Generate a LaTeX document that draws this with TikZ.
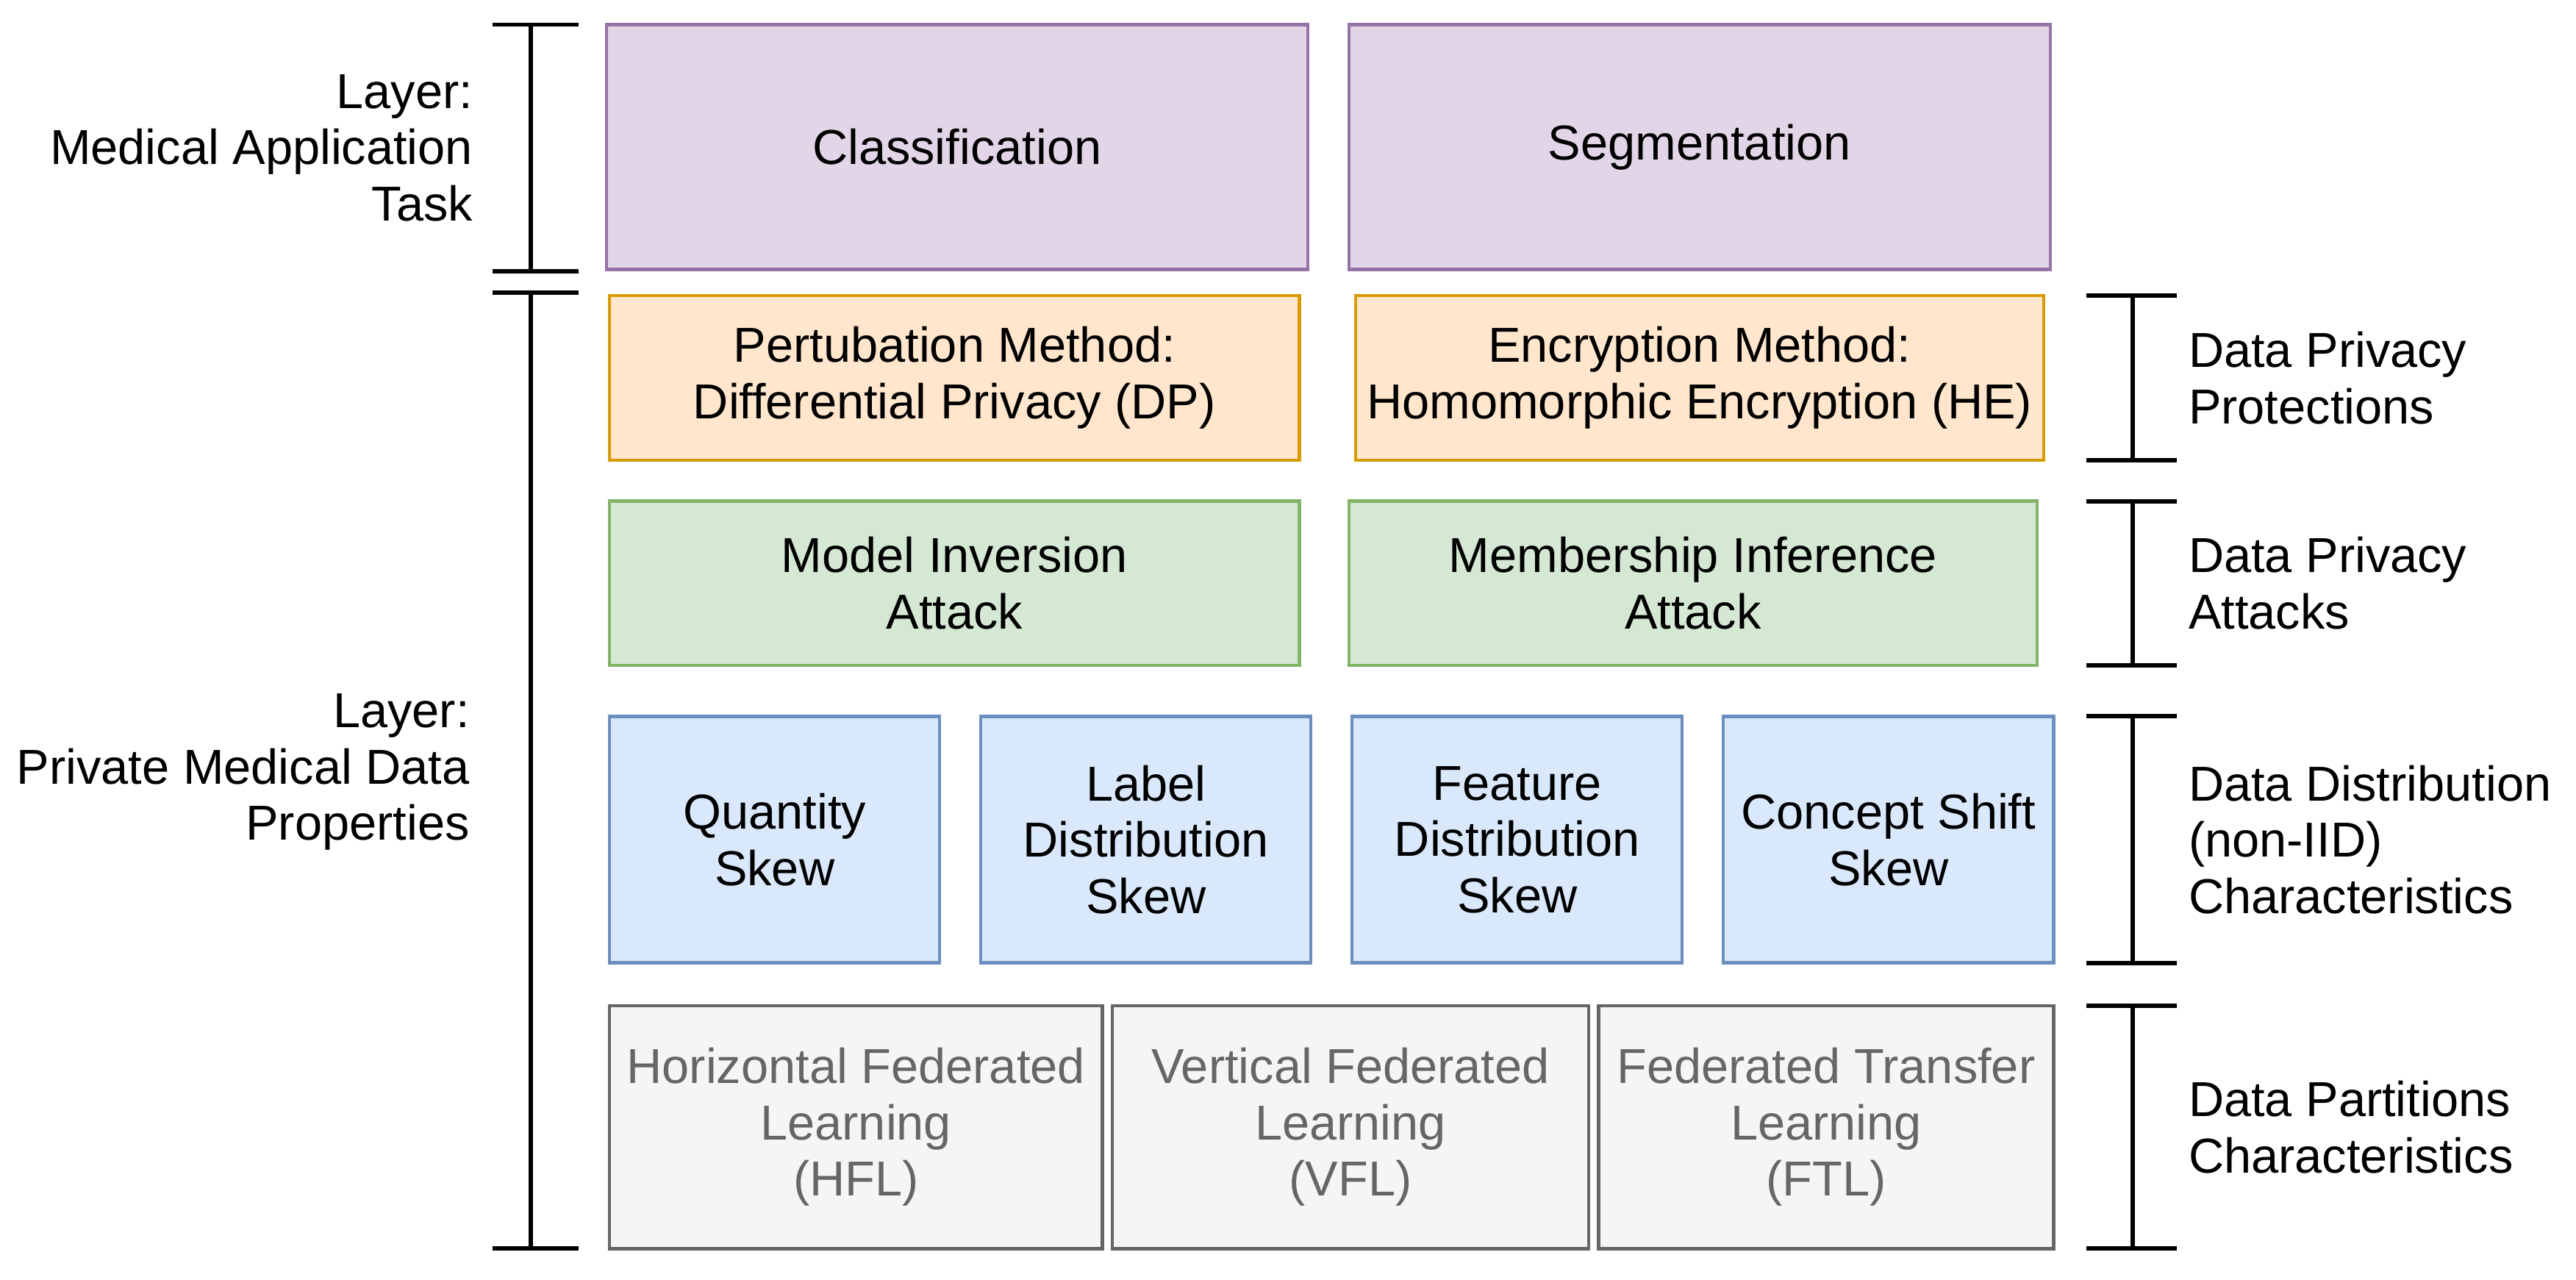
\documentclass[tikz,border=0pt]{standalone}
\usepackage{fontspec}
\setmainfont{Liberation Sans}
\begin{document}
\begin{tikzpicture}[x=0.02cm,y=-0.02cm,
  box/.style={draw,line width=1.1pt,align=center,font=\fontsize{17}{19.5}\selectfont,inner sep=2pt},
  pur/.style={box,fill={rgb,255:red,225;green,213;blue,231},draw={rgb,255:red,150;green,115;blue,166}},
  ora/.style={box,fill={rgb,255:red,255;green,230;blue,204},draw={rgb,255:red,215;green,155;blue,0}},
  gre/.style={box,fill={rgb,255:red,213;green,232;blue,212},draw={rgb,255:red,130;green,179;blue,102}},
  blu/.style={box,fill={rgb,255:red,218;green,232;blue,252},draw={rgb,255:red,108;green,142;blue,191}},
  gra/.style={box,fill={rgb,255:red,245;green,245;blue,245},draw={rgb,255:red,102;green,102;blue,102},text={rgb,255:red,102;green,102;blue,102}},
  lbl/.style={font=\fontsize{17}{19.5}\selectfont},
  br/.style={line width=1.5pt}]
\useasboundingbox (0,0) rectangle (1568,779);
\node[pur,minimum width=8.54cm,minimum height=2.98cm] (cls) at (582.5,89.5) {Classification};
\node[pur,minimum width=8.54cm,minimum height=2.98cm] (seg) at (1034.5,89.5) {Segmentation};
\node[ora,minimum width=8.4cm,minimum height=2cm] (dp) at (581,230) {Pertubation Method:\\Differential Privacy (DP)};
\node[ora,minimum width=8.38cm,minimum height=2cm] (he) at (1034.5,230) {Encryption Method:\\Homomorphic Encryption (HE)};
\node[gre,minimum width=8.4cm,minimum height=2cm] (mia) at (581,355) {Model Inversion\\Attack};
\node[gre,minimum width=8.38cm,minimum height=2cm] (mem) at (1030.5,355) {Membership Inference\\Attack};
\node[blu,minimum width=4.02cm,minimum height=3cm] (q) at (471.5,511) {Quantity\\Skew};
\node[blu,minimum width=4.02cm,minimum height=3cm] (l) at (697.5,511) {Label\\Distribution\\Skew};
\node[blu,minimum width=4.02cm,minimum height=3cm] (f) at (923.5,511) {Feature\\Distribution\\Skew};
\node[blu,minimum width=4.02cm,minimum height=3cm] (c) at (1149.5,511) {Concept Shift\\Skew};
\node[gra,minimum width=6cm,minimum height=2.96cm] (hfl) at (521,686) {Horizontal Federated\\Learning\\(HFL)};
\node[gra,minimum width=5.8cm,minimum height=2.96cm] (vfl) at (822,686) {Vertical Federated\\Learning\\(VFL)};
\node[gra,minimum width=5.54cm,minimum height=2.96cm] (ftl) at (1111.5,686) {Federated Transfer\\Learning\\(FTL)};
% left brackets
\coordinate (a1) at (323,15); \coordinate (a2) at (323,165);
\coordinate (b1) at (323,178); \coordinate (b2) at (323,760);
\draw[br] (a1) -- (a2); \draw[br] (300,15) -- (352,15); \draw[br] (300,165) -- (352,165);
\draw[br] (b1) -- (b2); \draw[br] (300,178) -- (352,178); \draw[br] (300,760) -- (352,760);
\node[lbl,anchor=east,align=right] (t1) at (294,90) {Layer:\\Medical Application\\Task};
\node[lbl,anchor=east,align=right] (t2) at (292,470) {Layer:\\Private Medical Data\\Properties};
% right brackets
\foreach \ya/\yb in {180/280,305/405,436/586,612/760}{
  \draw[br] (1298,\ya) -- (1298,\yb);
  \draw[br] (1270,\ya) -- (1325,\ya);
  \draw[br] (1270,\yb) -- (1325,\yb);}
\node[lbl,anchor=west,align=left] (r1) at (1326,230) {Data Privacy\\Protections};
\node[lbl,anchor=west,align=left] (r2) at (1326,355) {Data Privacy\\Attacks};
\node[lbl,anchor=west,align=left] (r3) at (1326,511) {Data Distribution\\(non-IID)\\Characteristics};
\node[lbl,anchor=west,align=left] (r4) at (1326,686) {Data Partitions\\Characteristics};
\end{tikzpicture}
\end{document}
